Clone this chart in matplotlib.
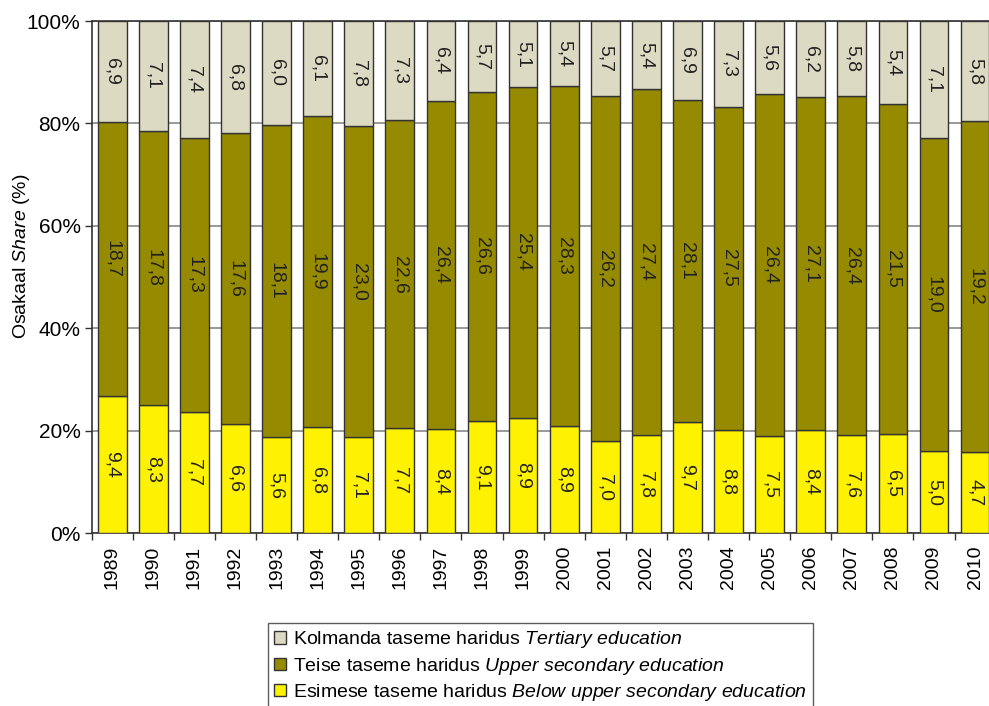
import numpy as np
import matplotlib
matplotlib.use('Agg')
from matplotlib import pyplot as plt
from matplotlib.patches import Patch

plt.rcParams['font.family'] = ['Liberation Sans', 'DejaVu Sans']
plt.rcParams['mathtext.fontset'] = 'custom'
plt.rcParams['mathtext.rm'] = 'Liberation Sans'
plt.rcParams['mathtext.it'] = 'Liberation Sans:italic'

years = [str(y) for y in range(1989, 2011)]
below = [9.4, 8.3, 7.7, 6.6, 5.6, 6.8, 7.1, 7.7, 8.4, 9.1, 8.9, 8.9, 7.0, 7.8, 9.7, 8.8, 7.5, 8.4, 7.6, 6.5, 5.0, 4.7]
upper = [18.7, 17.8, 17.3, 17.6, 18.1, 19.9, 23.0, 22.6, 26.4, 26.6, 25.4, 28.3, 26.2, 27.4, 28.1, 27.5, 26.4, 27.1, 26.4, 21.5, 19.0, 19.2]
tert = [6.9, 7.1, 7.4, 6.8, 6.0, 6.1, 7.8, 7.3, 6.4, 5.7, 5.1, 5.4, 5.7, 5.4, 6.9, 7.3, 5.6, 6.2, 5.8, 5.4, 7.1, 5.8]

labels = ['Kolmanda taseme haridus $\\it{Tertiary\\ education}$',
          'Teise taseme haridus $\\it{Upper\\ secondary\\ education}$',
          'Esimese taseme haridus $\\it{Below\\ upper\\ secondary\\ education}$']
colors = ['#dddac3', '#968b00', '#fff200']

b = np.array(below)
u = np.array(upper)
t = np.array(tert)
tot = b + u + t
pb = b / tot * 100
pu = u / tot * 100
pt = t / tot * 100

fig = plt.figure(figsize=(9.89, 7.06), dpi=100)
ax = fig.add_axes([0.0927, 0.2446, 0.914, 0.7256])

x = np.arange(len(years))
w = 0.7
ec = '#333333'
ax.bar(x, pb, w, color=colors[2], edgecolor=ec, linewidth=1, zorder=3)
ax.bar(x, pu, w, bottom=pb, color=colors[1], edgecolor=ec, linewidth=1, zorder=3)
ax.bar(x, pt, w, bottom=pb + pu, color=colors[0], edgecolor=ec, linewidth=1, zorder=3)

fs = 14
for i in range(len(years)):
    for val, lo, h in [(b[i], 0, pb[i]), (u[i], pb[i], pu[i]), (t[i], pb[i] + pu[i], pt[i])]:
        ax.text(x[i], lo + h / 2, ('%.1f' % val).replace('.', ','), rotation=-90,
                ha='center', va='center', fontsize=fs, color='#222222', zorder=4)

ax.set_xlim(-0.5, len(years) - 0.5)
ax.set_ylim(0, 100)
ax.set_yticks([0, 20, 40, 60, 80, 100])
ax.set_yticklabels(['%d%%' % v for v in [0, 20, 40, 60, 80, 100]], fontsize=15)
ax.set_xticks(x)
ax.set_xticklabels(years, rotation=90, fontsize=14)
ax.set_xticks(np.arange(-0.5, len(years), 1), minor=True)
ax.tick_params(axis='x', which='major', length=0, pad=9)
ax.tick_params(axis='x', which='minor', length=5, width=1, color='#333333')
ax.tick_params(axis='y', length=5, width=1, color='#333333', pad=3)
ax.yaxis.grid(True, color='#888888', linewidth=1.2, zorder=0)
ax.set_axisbelow(True)
for s in ['left', 'bottom', 'top']:
    ax.spines[s].set_color('#333333')
    ax.spines[s].set_linewidth(1.2)
ax.spines['right'].set_visible(False)

ax.set_ylabel('Osakaal $\\it{Share}$ (%)', fontsize=14)
ax.yaxis.set_label_coords(-0.066, 0.54)

handles = [Patch(facecolor=c, edgecolor=ec, linewidth=1) for c in colors]
leg = fig.legend(handles, labels, loc='upper left', bbox_to_anchor=(0.271, 0.117),
                 fontsize=14, frameon=True, fancybox=False, edgecolor='#333333',
                 handlelength=0.6, handleheight=0.6, handletextpad=0.4,
                 labelspacing=0.28, borderpad=0.3, borderaxespad=0)
leg.get_frame().set_linewidth(1)

fig.savefig('out.png', dpi=100)
